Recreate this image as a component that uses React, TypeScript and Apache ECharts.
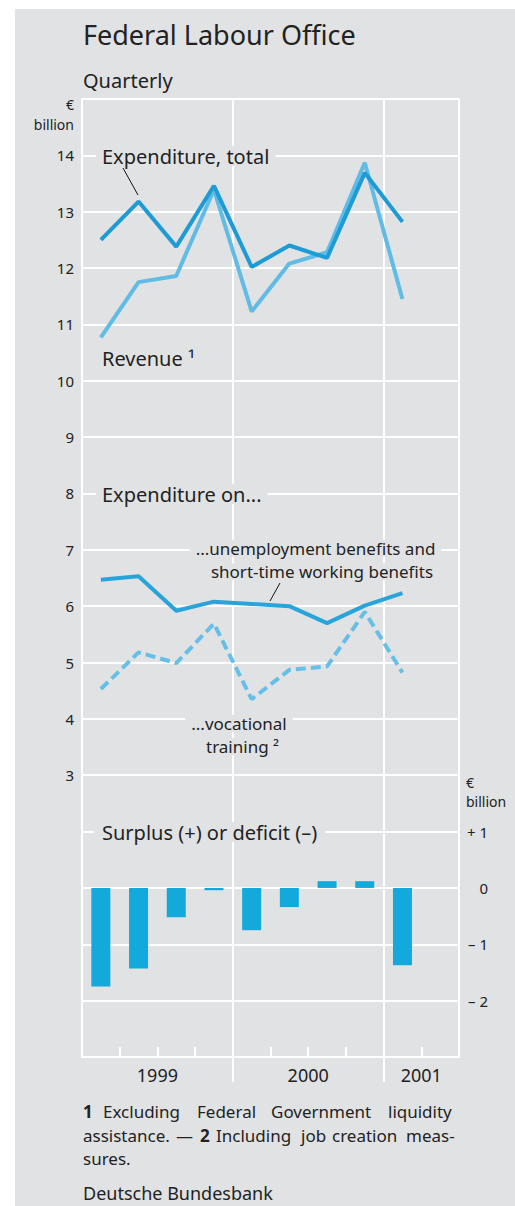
import React, { useEffect, useRef } from "react";
import * as echarts from "echarts";

const quarters = [
  "1999 Q1", "1999 Q2", "1999 Q3", "1999 Q4",
  "2000 Q1", "2000 Q2", "2000 Q3", "2000 Q4",
  "2001 Q1", "2001 Q2",
];
const years = ["1999", "2000", "2001"];
const yearCentres = [2, 6, 9];
const yearBounds = [4, 8];

const expenditureTotal = [12.5, 13.18, 12.38, 13.46, 12.02, 12.4, 12.18, 13.69, 12.82, null];
const revenue = [10.77, 11.75, 11.86, 13.39, 11.23, 12.08, 12.28, 13.87, 11.45, null];
const unemploymentBenefits = [6.47, 6.53, 5.92, 6.08, 6.04, 6.0, 5.7, 6.01, 6.23, null];
const vocationalTraining = [4.53, 5.18, 4.99, 5.69, 4.35, 4.87, 4.93, 5.9, 4.82, null];
const surplus = [-1.75, -1.43, -0.52, -0.04, -0.75, -0.34, 0.12, 0.12, -1.37, null];

const FONT = "'Noto Sans', 'Open Sans', sans-serif";
const BG = "#e1e2e4";
const INK = "#222222";
const WHITE = "#ffffff";

function txt(text: string, x: number, y: number, size: number, opts: any = {}) {
  return {
    type: "text",
    z: 1,
    style: {
      text,
      x,
      y,
      fill: INK,
      font: `${opts.weight || "normal"} ${size}px ${FONT}`,
      align: opts.align || "left",
      verticalAlign: "middle",
      backgroundColor: opts.bg ? BG : undefined,
      padding: opts.bg ? opts.pad || [0, 6] : undefined,
      rich: opts.rich,
    },
  };
}

export default function App() {
  const ref = useRef<HTMLDivElement>(null);

  useEffect(() => {
    document.body.style.margin = "0";
    const chart = echarts.init(ref.current!, null, { renderer: "svg" });
    const fs = 17;
    const fn = (w: string) => `${w} ${fs}px ${FONT}`;
    const rs = (w: string, width?: number) => ({ font: fn(w), fill: INK, width });
    const richFoot = {
      n: rs("normal"),
      b1: rs("bold", 20),
      ex: rs("normal", 94),
      fe: rs("normal", 74),
      go: rs("normal", 117),
      as: rs("normal", 93),
      da: rs("normal", 24),
      b2: rs("bold", 16),
      inc: rs("normal", 85),
      jo: rs("normal", 31),
      cr: rs("normal", 74),
    };
    const option: any = {
      animation: false,
      backgroundColor: "transparent",
      textStyle: { fontFamily: FONT },
      grid: {
        left: 82,
        right: 56,
        top: 99,
        bottom: 149,
        containLabel: false,
        outerBoundsMode: "none",
      },
      xAxis: [
        {
          type: "category",
          data: quarters,
          boundaryGap: true,
          position: "bottom",
          axisLine: { show: true, onZero: false, lineStyle: { color: WHITE, width: 2 } },
          axisTick: { show: true, interval: 0, inside: true, length: 10, lineStyle: { color: WHITE, width: 2 } },
          axisLabel: { show: false },
          splitLine: {
            show: true,
            interval: (i: number) => yearBounds.includes(i),
            lineStyle: { color: WHITE, width: 2 },
          },
        },
        {
          type: "value",
          min: 0,
          max: 10,
          position: "bottom",
          axisLine: { show: false, onZero: false },
          axisTick: { show: true, customValues: yearBounds, length: 25, lineStyle: { color: WHITE, width: 2 } },
          axisLabel: {
            show: true,
            customValues: yearCentres,
            formatter: (v: number) => years[yearCentres.indexOf(v)] ?? "",
            fontSize: 18,
            color: INK,
            fontFamily: FONT,
            margin: 9,
          },
          splitLine: { show: false },
        },
      ],
      yAxis: [
        {
          type: "value",
          min: -2,
          max: 15,
          interval: 1,
          position: "left",
          axisLine: { show: true, onZero: false, lineStyle: { color: WHITE, width: 2 } },
          axisTick: { show: false },
          axisLabel: {
            formatter: (v: number) => (v >= 3 && v <= 14 ? String(v) : ""),
            fontSize: 15,
            color: INK,
            fontFamily: FONT,
            margin: 8,
          },
          splitLine: { show: true, lineStyle: { color: WHITE, width: 2 } },
        },
        {
          type: "value",
          min: -3,
          max: 14,
          interval: 1,
          position: "right",
          axisLine: { show: true, onZero: false, lineStyle: { color: WHITE, width: 2 } },
          axisTick: { show: false },
          axisLabel: {
            formatter: (v: number) =>
              v >= -2 && v <= 1 ? (v > 0 ? "+ " + v : v < 0 ? "\u2013 " + Math.abs(v) : "0") : "",
            fontSize: 15,
            color: INK,
            fontFamily: FONT,
            align: "right",
            margin: 29,
          },
          splitLine: { show: false },
        },
      ],
      series: [
        {
          name: "Revenue",
          type: "line",
          data: revenue,
          symbol: "none",
          lineStyle: { color: "#60bce4", width: 4 },
          z: 3,
        },
        {
          name: "Expenditure, total",
          type: "line",
          data: expenditureTotal,
          symbol: "none",
          lineStyle: { color: "#1d9bd5", width: 4 },
          z: 4,
        },
        {
          name: "Unemployment benefits",
          type: "line",
          data: unemploymentBenefits,
          symbol: "none",
          lineStyle: { color: "#28a4db", width: 4 },
          z: 4,
        },
        {
          name: "Vocational training",
          type: "line",
          data: vocationalTraining,
          symbol: "none",
          lineStyle: { color: "#66bfe6", width: 4, type: [10, 5] },
          z: 3,
        },
        {
          name: "Surplus or deficit",
          type: "bar",
          yAxisIndex: 1,
          data: surplus,
          barWidth: 19,
          itemStyle: { color: "#13aadb" },
          z: 3,
        },
      ],
      graphic: [
        txt("Federal Labour Office", 83, 34, 27),
        txt("Quarterly", 83, 80, 20),
        txt("\u20ac", 74, 104.5, 14, { align: "right" }),
        txt("billion", 74, 124, 14, { align: "right" }),
        txt("\u20ac", 466, 782, 14),
        txt("billion", 466, 801.5, 14),
        txt("Expenditure, total", 96, 156, 20, { bg: true }),
        { type: "line", z: 5, shape: { x1: 123, y1: 168, x2: 138, y2: 195 }, style: { stroke: "#111", lineWidth: 1 } },
        txt("Revenue \u00b9", 102, 358, 20),
        txt("Expenditure on...", 96, 494, 20, { bg: true }),
        txt("...unemployment benefits and", 315.5, 548.3, fs, { bg: true, align: "center" }),
        txt("short-time working benefits", 322, 571.7, fs, { bg: true, align: "center" }),
        { type: "line", z: 5, shape: { x1: 280, y1: 583, x2: 270, y2: 601 }, style: { stroke: "#111", lineWidth: 1 } },
        txt("...vocational", 239, 723.3, fs, { bg: true, align: "center" }),
        txt("training \u00b2", 242.5, 746.7, fs, { bg: true, align: "center" }),
        txt("Surplus (+) or deficit (\u2013)", 94, 832, 20, { bg: true, pad: [0, 8] }),
        txt("{b1|1}{ex|Excluding}{fe|Federal}{go|Government}{n|liquidity}", 83, 1111.7, fs, { rich: richFoot }),
        txt(
          "{as|assistance.}{da|\u2014}{b2|2}{inc|Including}{jo|job}{cr|creation}{n|meas-}",
          83,
          1135,
          fs,
          { rich: richFoot }
        ),
        txt("sures.", 83, 1158.3, fs),
        txt("Deutsche Bundesbank", 83, 1193, 18),
      ],
    };
    chart.setOption(option);
    return () => chart.dispose();
  }, []);

  return (
    <div style={{ position: "relative", width: 515, height: 1206, background: "#ffffff", overflow: "hidden" }}>
      <div style={{ position: "absolute", left: 15, top: 9, width: 500, height: 1197, background: BG }} />
      <div ref={ref} style={{ position: "absolute", left: 0, top: 0, width: 515, height: 1206 }} />
    </div>
  );
}
